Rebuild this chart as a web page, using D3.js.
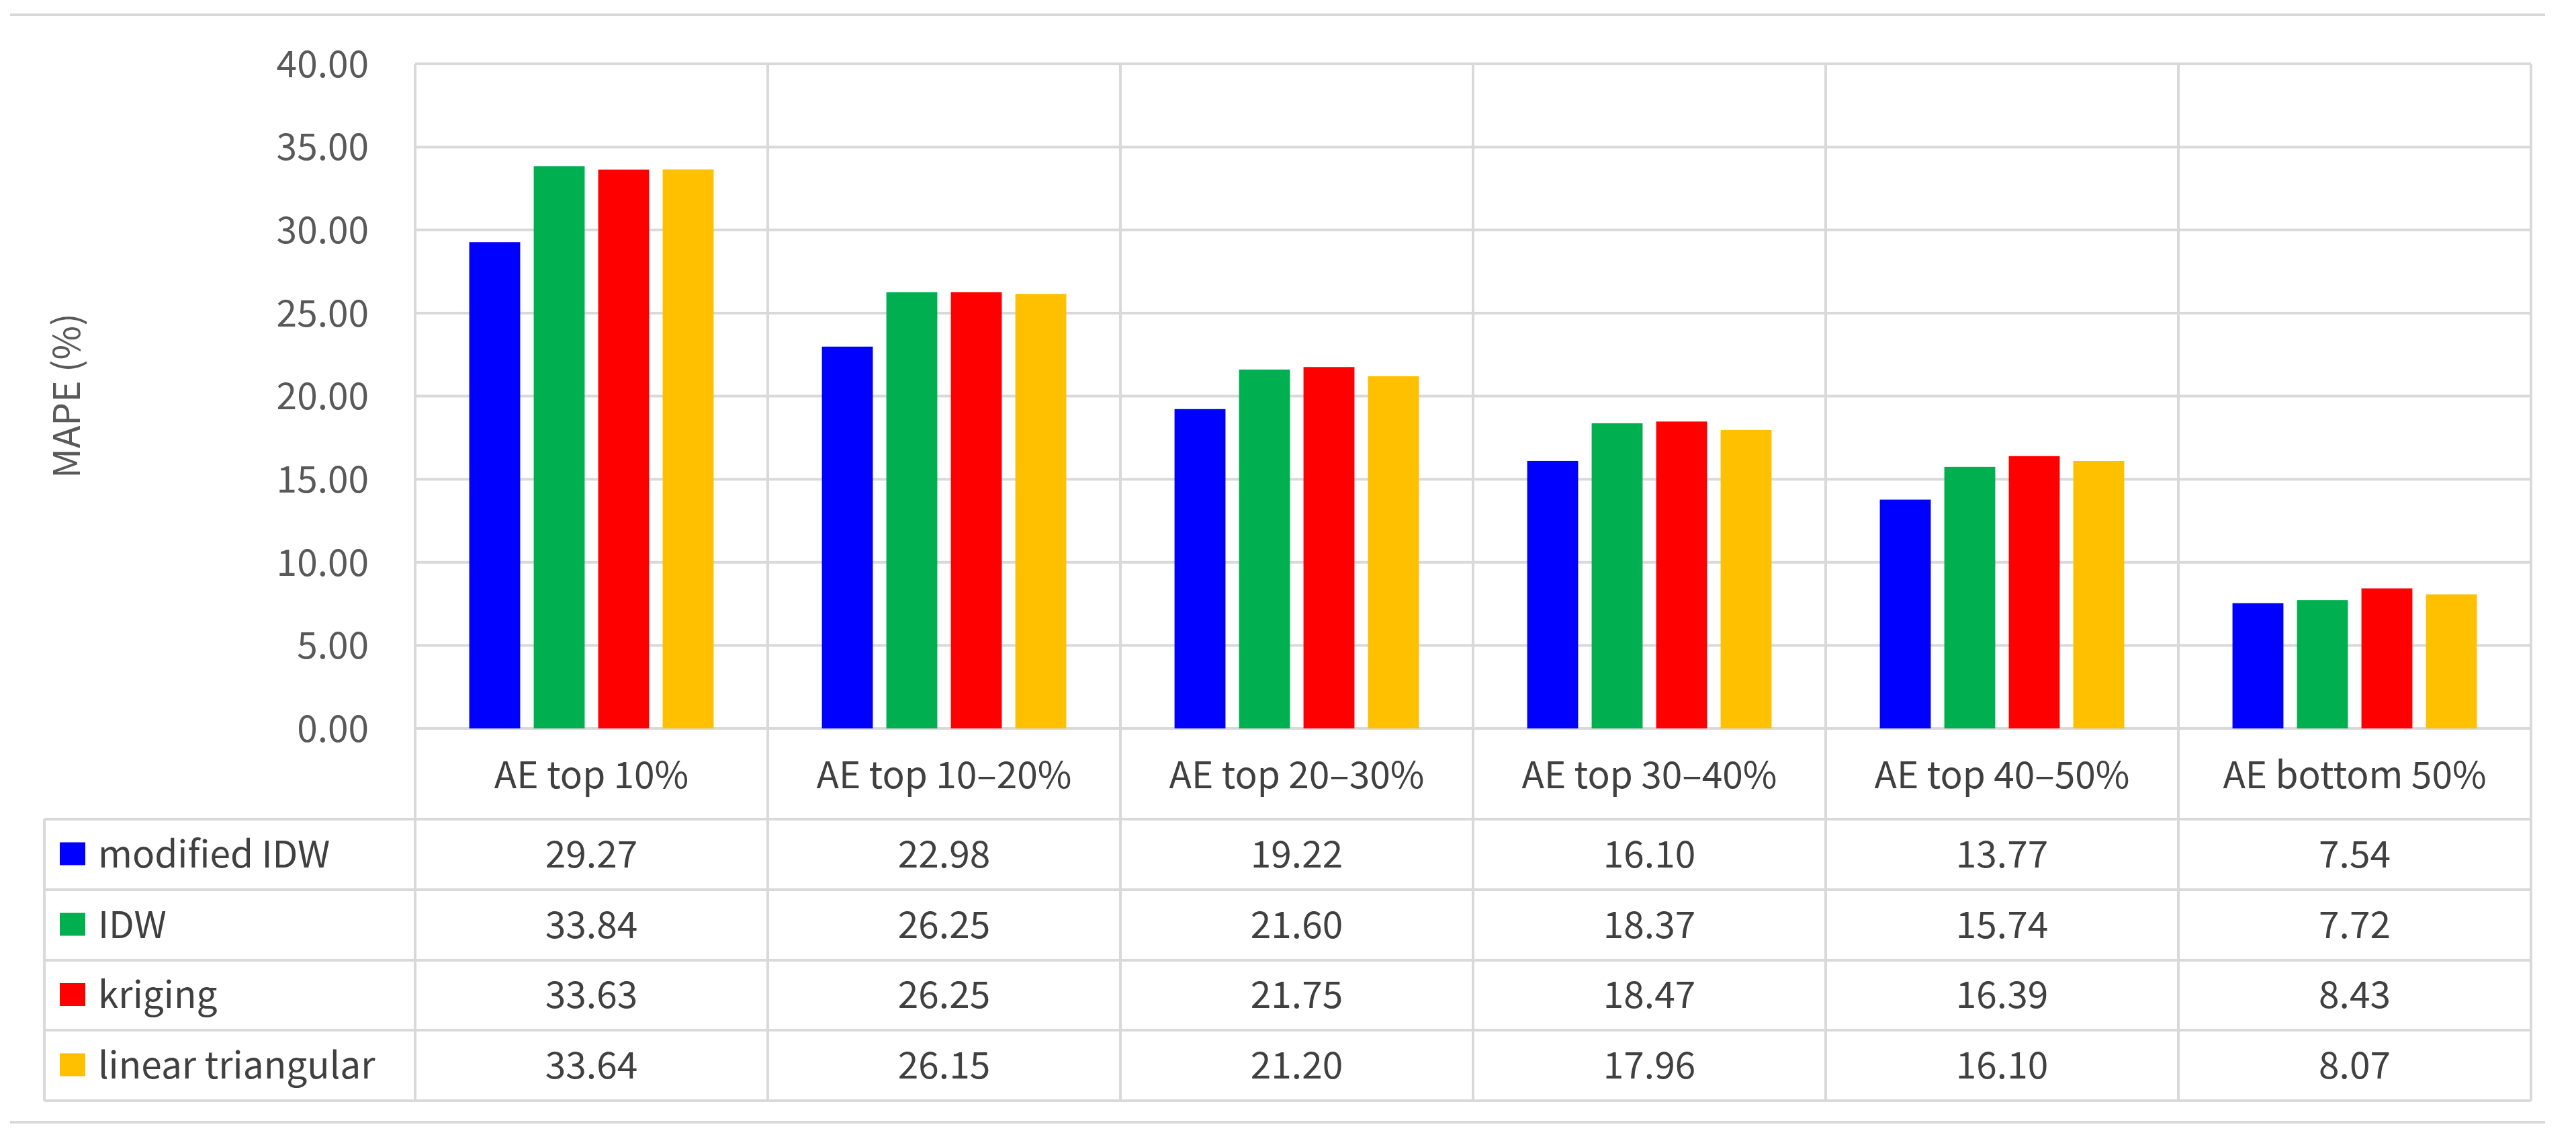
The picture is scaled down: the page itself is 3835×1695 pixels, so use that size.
<!DOCTYPE html>
<html>
<head>
<meta charset="utf-8">
<script src="https://d3js.org/d3.v7.min.js"></script>
<style>body{margin:0;background:#fff}</style>
</head>
<body>
<script>
var categories = ["AE top 10%", "AE top 10\u201320%", "AE top 20\u201330%", "AE top 30\u201340%", "AE top 40\u201350%", "AE bottom 50%"];
var seriesNames = ["modified IDW", "IDW", "kriging", "linear triangular"];
var seriesColors = ["#0000ff", "#00b050", "#ff0000", "#ffc000"];
var modIDW = [29.27, 22.98, 19.22, 16.10, 13.77, 7.54];
var idw = [33.84, 26.25, 21.60, 18.37, 15.74, 7.72];
var kriging = [33.63, 26.25, 21.75, 18.47, 16.39, 8.43];
var linTri = [33.64, 26.15, 21.20, 17.96, 16.10, 8.07];
var yTicks = [0, 5, 10, 15, 20, 25, 30, 35, 40];
var values = [modIDW, idw, kriging, linTri];

var W = 3835, H = 1695;
var plotLeft = 618, plotRight = 3768, plotTop = 95, base = 1084;
var grid = "#d9d9d9", font = "'Noto Sans CJK KR', 'Noto Sans', sans-serif";

var svg = d3.select("body").append("svg").attr("width", W).attr("height", H)
  .style("font-family", font);

var x = d3.scaleBand().domain(categories).range([plotLeft, plotRight]);
var y = d3.scaleLinear().domain([0, 40]).range([base, plotTop]);
var xs = d3.scaleBand().domain(seriesNames).range([0, 4 * 96]).paddingInner(0.21).paddingOuter(0.105);

// outer lines
svg.append("line").attr("x1", 15).attr("x2", 3789).attr("y1", 22).attr("y2", 22).attr("stroke", grid).attr("stroke-width", 4);
svg.append("line").attr("x1", 15).attr("x2", 3789).attr("y1", 1670).attr("y2", 1670).attr("stroke", grid).attr("stroke-width", 4);

// gridlines
svg.selectAll(".g").data(yTicks).enter().append("line")
  .attr("x1", plotLeft).attr("x2", plotRight).attr("y1", function(d){ return y(d); }).attr("y2", function(d){ return y(d); })
  .attr("stroke", grid).attr("stroke-width", 4);

// tick labels
svg.selectAll(".yt").data(yTicks).enter().append("text")
  .attr("x", 549).attr("y", function(d){ return y(d); }).attr("dy", "0.36em").attr("text-anchor", "end")
  .attr("font-size", 55).attr("fill", "#595959").text(function(d){ return d.toFixed(2); });

svg.append("text").attr("transform", "translate(100,589) rotate(-90)")
  .attr("text-anchor", "middle").attr("dy", "0.35em").attr("font-size", 55).attr("fill", "#595959")
  .text("MAPE (%)");

// bars
values.forEach(function(vals, s) {
  svg.selectAll(".b" + s).data(vals).enter().append("rect")
    .attr("x", function(d, i){ return x(categories[i]) + x.bandwidth() / 2 - 192 + xs(seriesNames[s]); })
    .attr("width", xs.bandwidth())
    .attr("y", function(d){ return y(d); })
    .attr("height", function(d){ return base - y(d); })
    .attr("fill", seriesColors[s]);
});

// table
var rowY = [1084, 1219, 1324, 1429, 1533, 1638];
var colX = [plotLeft].concat(categories.map(function(c){ return x(c) + x.bandwidth(); }));
colX.forEach(function(cx) {
  svg.append("line").attr("x1", cx).attr("x2", cx).attr("y1", plotTop).attr("y2", 1638)
    .attr("stroke", grid).attr("stroke-width", 4);
});
svg.append("line").attr("x1", 66).attr("x2", 66).attr("y1", 1219).attr("y2", 1638).attr("stroke", grid).attr("stroke-width", 4);
rowY.slice(1).forEach(function(ry) {
  svg.append("line").attr("x1", 66).attr("x2", plotRight).attr("y1", ry).attr("y2", ry).attr("stroke", grid).attr("stroke-width", 4);
});

svg.selectAll(".cat").data(categories).enter().append("text")
  .attr("x", function(d){ return x(d) + x.bandwidth() / 2; }).attr("y", 1154).attr("dy", "0.35em")
  .attr("text-anchor", "middle").attr("font-size", 55).attr("fill", "#404040").text(function(d){ return d; });

seriesNames.forEach(function(name, s) {
  var cy = (rowY[s + 1] + rowY[s + 2]) / 2;
  svg.append("rect").attr("x", 89).attr("y", cy - 18).attr("width", 38).attr("height", 34).attr("fill", seriesColors[s]);
  svg.append("text").attr("x", 146).attr("y", cy).attr("dy", "0.35em").attr("font-size", 55).attr("fill", "#404040").text(name);
  svg.selectAll(".v" + s).data(values[s]).enter().append("text")
    .attr("x", function(d, i){ return x(categories[i]) + x.bandwidth() / 2; }).attr("y", cy).attr("dy", "0.35em")
    .attr("text-anchor", "middle").attr("font-size", 55).attr("fill", "#404040")
    .text(function(d){ return d.toFixed(2); });
});
</script>
</body>
</html>
